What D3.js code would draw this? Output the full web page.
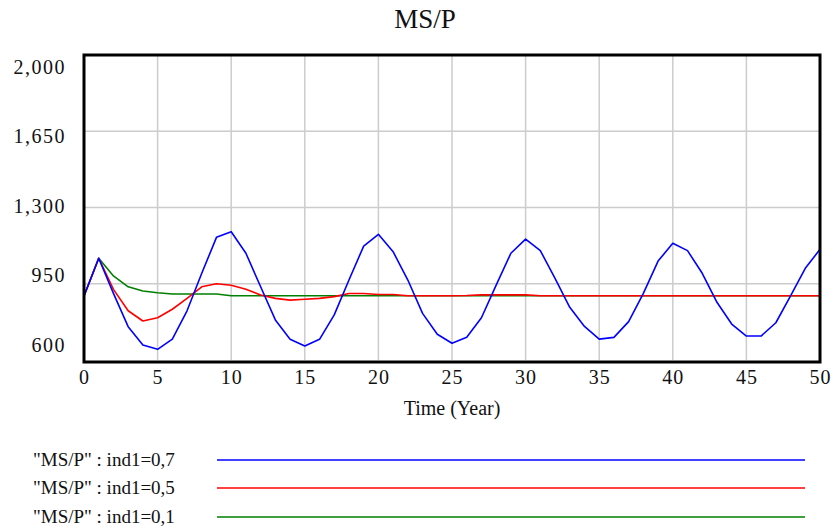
<!DOCTYPE html>
<html>
<head>
<meta charset="utf-8">
<title>MS/P</title>
<script src="https://cdn.jsdelivr.net/npm/d3@7"></script>
<style>
  body { margin: 0; background: #fff; }
  text { font-family: "Liberation Serif", "Times New Roman", serif; fill: #111; }
</style>
</head>
<body>
<svg id="chart" width="833" height="529"></svg>
<script>
// years 0..50
const years = d3.range(0, 51);

// "MS/P" : ind1=0,7
const ind07 = [894, 1067, 906, 753, 669, 649, 696, 826, 998, 1163,
  1189, 1090, 936, 784, 695, 664, 695, 807, 967, 1123,
  1177, 1097, 967, 814, 718, 677, 704, 794, 944, 1090,
  1155, 1102, 975, 842, 754, 696, 704, 776, 906, 1054,
  1136, 1102, 998, 865, 765, 710, 710, 771, 894, 1021, 1108];

// "MS/P" : ind1=0,5
const ind05 = [894, 1067, 924, 826, 779, 794, 833, 883, 936, 950,
  943, 925, 898, 883, 875, 879, 883, 891, 905, 905,
  901, 901, 895, 895, 895, 895, 896, 899, 899, 899,
  899, 895, 895, 895, 895, 895, 895, 895, 895, 895,
  895, 895, 895, 895, 895, 895, 895, 895, 895, 895, 895];

// "MS/P" : ind1=0,1
const ind01 = [894, 1067, 986, 936, 917, 909, 903, 903, 903, 903,
  895, 895, 895, 895, 895, 895, 895, 895, 895, 895,
  895, 895, 895, 895, 895, 895, 895, 895, 895, 895,
  895, 895, 895, 895, 895, 895, 895, 895, 895, 895,
  895, 895, 895, 895, 895, 895, 895, 895, 895, 895, 895];

const xTicks = [0, 5, 10, 15, 20, 25, 30, 35, 40, 45, 50];
const yTicks = [600, 950, 1300, 1650, 2000];
const seriesNames = ['"MS/P" : ind1=0,7', '"MS/P" : ind1=0,5', '"MS/P" : ind1=0,1'];
const seriesColors = ["#0000ff", "#ff0000", "#008000"];
const seriesData = [ind07, ind05, ind01];

const serif = "Liberation Serif, Times New Roman, serif";
const svg = d3.select("#chart");

const x = d3.scaleLinear().domain([0, 50]).range([84, 820]);
const y = d3.scaleLinear().domain([600, 2000]).range([360, 55]);
// vensim spreads the y labels a bit tighter than the grid
const yLab = d3.scaleLinear().domain([600, 2000]).range([345, 67]);

// title
svg.append("text")
  .attr("x", 425).attr("y", 28)
  .attr("text-anchor", "middle")
  .style("font-size", "27px")
  .text("MS/P");

// grid
svg.append("g").selectAll("line")
  .data(xTicks.slice(1, -1))
  .join("line")
  .attr("x1", d => x(d)).attr("x2", d => x(d))
  .attr("y1", y(2000)).attr("y2", y(600))
  .attr("stroke", "#cccccc").attr("stroke-width", 1.5);

svg.append("g").selectAll("line")
  .data(yTicks.slice(1, -1))
  .join("line")
  .attr("x1", x(0)).attr("x2", x(50))
  .attr("y1", d => y(d)).attr("y2", d => y(d))
  .attr("stroke", "#cccccc").attr("stroke-width", 1.5);

// lines
const line = d3.line()
  .x((d, i) => x(years[i]))
  .y(d => y(d));

// draw green first, blue on top
[2, 1, 0].forEach(k => {
  svg.append("path")
    .datum(seriesData[k])
    .attr("fill", "none")
    .attr("stroke", seriesColors[k])
    .attr("stroke-width", 1.6)
    .attr("stroke-linejoin", "round")
    .attr("d", line);
});

// frame
svg.append("rect")
  .attr("x", x(0)).attr("y", y(2000))
  .attr("width", x(50) - x(0))
  .attr("height", y(600) - y(2000) + 2)
  .attr("fill", "none")
  .attr("stroke", "#000").attr("stroke-width", 3);

// x axis labels
const xAxis = d3.axisBottom(x).tickValues(xTicks).tickSize(0).tickPadding(0);
const gx = svg.append("g")
  .attr("transform", "translate(0,370)")
  .call(xAxis)
  .attr("font-family", serif)
  .attr("font-size", 20);
gx.select(".domain").remove();
gx.selectAll("text")
  .attr("dy", "0.71em")
  .attr("fill", "#111")
  .style("letter-spacing", "1px");

// y axis labels
const yAxis = d3.axisLeft(yLab).tickValues(yTicks).tickSize(0).tickPadding(0)
  .tickFormat(d3.format(","));
const gy = svg.append("g")
  .attr("transform", "translate(66,0)")
  .call(yAxis)
  .attr("font-family", serif)
  .attr("font-size", 20);
gy.select(".domain").remove();
gy.selectAll("text")
  .attr("fill", "#111")
  .style("letter-spacing", "1.5px");

// x title
svg.append("text")
  .attr("x", 452).attr("y", 415)
  .attr("text-anchor", "middle")
  .style("font-size", "20px")
  .text("Time (Year)");

// legend
const legY = [460, 488, 517];
seriesNames.forEach((name, i) => {
  svg.append("text")
    .attr("x", 33).attr("y", legY[i] + 6)
    .style("font-size", "19px")
    .text(name);
  svg.append("line")
    .attr("x1", 217).attr("x2", 805)
    .attr("y1", legY[i]).attr("y2", legY[i])
    .attr("stroke", seriesColors[i]).attr("stroke-width", 1.5);
});
</script>
</body>
</html>
